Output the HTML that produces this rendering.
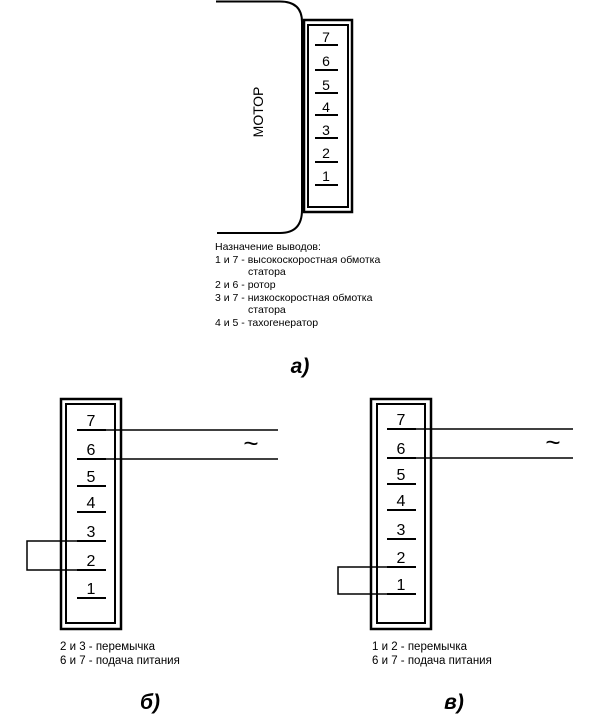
<!DOCTYPE html>
<html><head><meta charset="utf-8"><style>
body{margin:0;background:#fff}
svg text{font-family:"Liberation Sans",sans-serif;fill:#000}
</style></head><body>
<svg width="600" height="719" xmlns="http://www.w3.org/2000/svg">
<g fill="none" stroke="#000">
<path d="M216 1.5 H280 Q302 1.5 302 22 V210 Q302 233 280 233 H217" stroke-width="2"/>
<rect x="304" y="20" width="48" height="192" stroke-width="2.5"/>
<rect x="308" y="25" width="40" height="182" stroke-width="2"/>
<g stroke-width="2">
<line x1="315" y1="45" x2="338" y2="45"/><line x1="315" y1="70" x2="338" y2="70"/>
<line x1="315" y1="93" x2="338" y2="93"/><line x1="315" y1="115" x2="338" y2="115"/>
<line x1="315" y1="138" x2="338" y2="138"/><line x1="315" y1="162" x2="338" y2="162"/>
<line x1="315" y1="185" x2="338" y2="185"/>
</g>
<rect x="61" y="399" width="60" height="230" stroke-width="2.5"/>
<rect x="66" y="404" width="49" height="219" stroke-width="2"/>
<g stroke-width="2">
<line x1="77" y1="430" x2="106" y2="430"/><line x1="77" y1="459" x2="106" y2="459"/>
<line x1="77" y1="486" x2="106" y2="486"/><line x1="77" y1="512" x2="106" y2="512"/>
<line x1="77" y1="541" x2="106" y2="541"/><line x1="77" y1="570" x2="106" y2="570"/>
<line x1="77" y1="598" x2="106" y2="598"/>
</g>
<g stroke-width="1.5">
<line x1="106" y1="430" x2="278" y2="430"/><line x1="106" y1="459" x2="278" y2="459"/>
<path d="M77 541 H27 V570 H77"/>
</g>
<rect x="371" y="399" width="60" height="230" stroke-width="2.5"/>
<rect x="377" y="404" width="48" height="219" stroke-width="2"/>
<g stroke-width="2">
<line x1="387" y1="429" x2="416" y2="429"/><line x1="387" y1="458" x2="416" y2="458"/>
<line x1="387" y1="484" x2="416" y2="484"/><line x1="387" y1="510" x2="416" y2="510"/>
<line x1="387" y1="539" x2="416" y2="539"/><line x1="387" y1="567" x2="416" y2="567"/>
<line x1="387" y1="594" x2="416" y2="594"/>
</g>
<g stroke-width="1.5">
<line x1="416" y1="429" x2="573" y2="429"/><line x1="416" y1="458" x2="573" y2="458"/>
<path d="M387 567 H338 V594 H387"/>
</g>
</g>
<g font-size="14" text-anchor="middle">
<text x="326" y="42">7</text><text x="326" y="66">6</text><text x="326" y="90">5</text>
<text x="326" y="112">4</text><text x="326" y="135">3</text><text x="326" y="158">2</text>
<text x="326" y="181">1</text>
</g>
<text transform="translate(263,112) rotate(-90)" font-size="14" text-anchor="middle">МОТОР</text>
<g font-size="16" text-anchor="middle">
<text x="91" y="426">7</text><text x="91" y="455">6</text><text x="91" y="482">5</text>
<text x="91" y="508">4</text><text x="91" y="537">3</text><text x="91" y="566">2</text>
<text x="91" y="594">1</text>
<text x="401" y="425">7</text><text x="401" y="454">6</text><text x="401" y="480">5</text>
<text x="401" y="506">4</text><text x="401" y="535">3</text><text x="401" y="563">2</text>
<text x="401" y="590">1</text>
</g>
<text x="251" y="452" font-size="26" text-anchor="middle">~</text>
<text x="553" y="451" font-size="26" text-anchor="middle">~</text>
<g font-size="10.5">
<text x="215" y="250">Назначение выводов:</text>
<text x="215" y="263">1 и 7 - высокоскоростная обмотка</text>
<text x="248" y="275">статора</text>
<text x="215" y="288">2 и 6 - ротор</text>
<text x="215" y="301">3 и 7 - низкоскоростная обмотка</text>
<text x="248" y="313">статора</text>
<text x="215" y="326">4 и 5 - тахогенератор</text>
</g>
<g font-size="11.5">
<text x="60" y="650">2 и 3 - перемычка</text>
<text x="60" y="664">6 и 7 - подача питания</text>
<text x="372" y="650">1 и 2 - перемычка</text>
<text x="372" y="664">6 и 7 - подача питания</text>
</g>
<g font-size="21" font-weight="bold" font-style="italic" text-anchor="middle">
<text x="300" y="373">а)</text>
<text x="150" y="709">б)</text>
<text x="454" y="709">в)</text>
</g>
</svg>
</body></html>
